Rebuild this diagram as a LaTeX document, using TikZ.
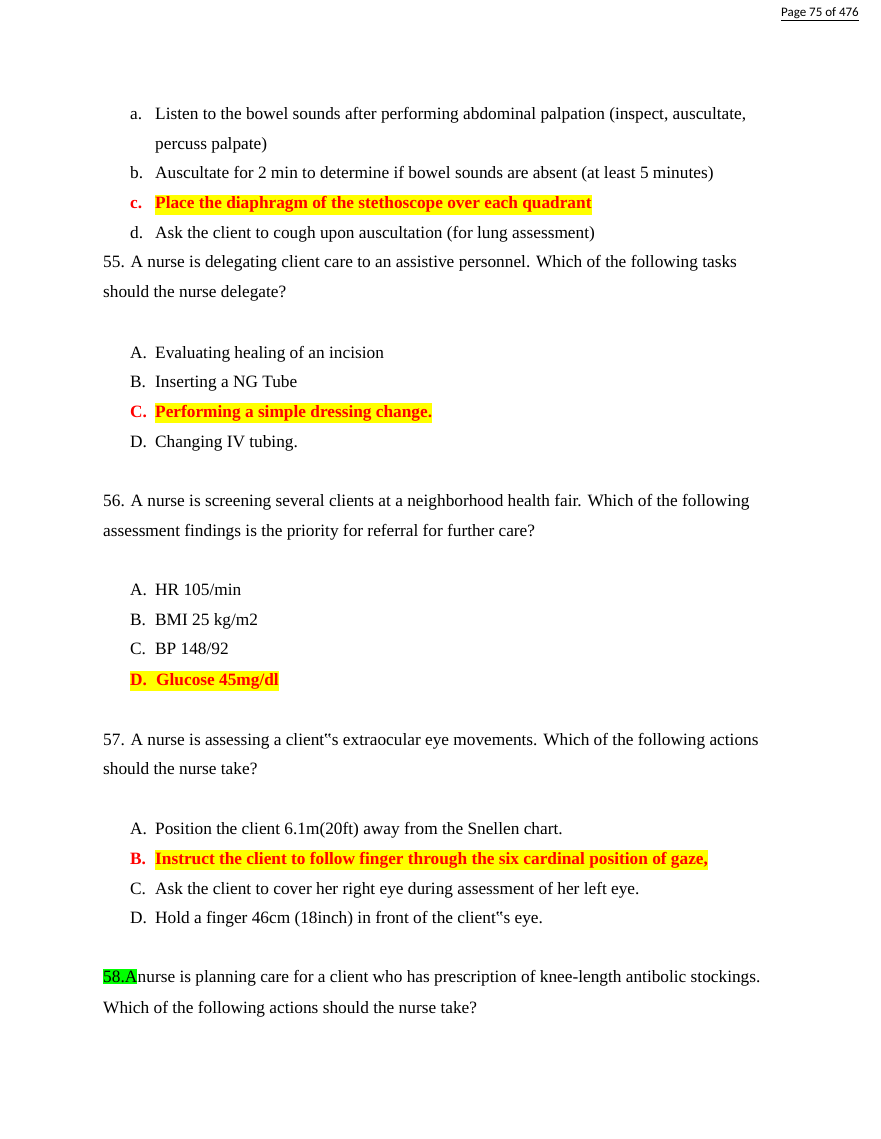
\documentclass[tikz,border=0pt]{standalone}
\usepackage{fontspec}
\setmainfont{Liberation Serif}
\newfontfamily\hdr{Carlito}
\definecolor{hl}{RGB}{255,255,0}
\definecolor{gr}{RGB}{0,255,0}
\definecolor{rd}{RGB}{255,0,0}
\tikzset{t/.style={anchor=base west,inner sep=0pt,font=\fontsize{17.3}{20}\selectfont},
 ans/.style={t,text=rd,font=\fontsize{17.3}{20}\selectfont\bfseries},
 hi/.style={ans,fill=hl,inner ysep=2pt}}
\begin{document}
\begin{tikzpicture}[x=1pt,y=-1pt]
\useasboundingbox (0,0) rectangle (880,1139);
\node[anchor=base east,inner sep=0pt,font=\hdr\fontsize{13}{15}\selectfont] (hd) at (859,17) {\underline{Page 75 of 476}};
\def\L{130}\def\T{155}\def\Q{103}
\node[t] (a1) at (\L,120) {a.};
\node[t] (a1t) at (\T,120) {Listen to the bowel sounds after performing abdominal palpation (inspect, auscultate,};
\node[t] (a1u) at (\T,150) {percuss palpate)};
\node[t] (b1) at (\L,179) {b.};
\node[t] (b1t) at (\T,179) {Auscultate for 2 min to determine if bowel sounds are absent (at least 5 minutes)};
\node[ans] (c1) at (\L,209) {c.};
\node[hi] (c1t) at (\T,209) {Place the diaphragm of the stethoscope over each quadrant};
\node[t] (d1) at (\L,239) {d.};
\node[t] (d1t) at (\T,239) {Ask the client to cough upon auscultation (for lung assessment)};
\node[t] (q55) at (\Q,268) {55. A nurse is delegating client care to an assistive personnel. Which of the following tasks};
\node[t] (q55b) at (\Q,298) {should the nurse delegate?};
\node[t] (a2) at (\L,358) {A.};
\node[t] (a2t) at (\T,358) {Evaluating healing of an incision};
\node[t] (b2) at (\L,387) {B.};
\node[t] (b2t) at (\T,387) {Inserting a NG Tube};
\node[ans] (c2) at (\L,417) {C.};
\node[hi] (c2t) at (\T,417) {Performing a simple dressing change.};
\node[t] (d2) at (\L,447) {D.};
\node[t] (d2t) at (\T,447) {Changing IV tubing.};
\node[t] (q56) at (\Q,506) {56. A nurse is screening several clients at a neighborhood health fair. Which of the following};
\node[t] (q56b) at (\Q,536) {assessment findings is the priority for referral for further care?};
\node[t] (a3) at (\L,595) {A.};
\node[t] (a3t) at (\T,595) {HR 105/min};
\node[t] (b3) at (\L,625) {B.};
\node[t] (b3t) at (\T,625) {BMI 25 kg/m2};
\node[t] (c3) at (\L,654) {C.};
\node[t] (c3t) at (\T,654) {BP 148/92};
\node[hi] (d3) at (\L,685) {D.\hspace{9.2pt}Glucose 45mg/dl};
\node[t] (q57) at (\Q,745) {57. A nurse is assessing a client‟s extraocular eye movements. Which of the following actions};
\node[t] (q57b) at (\Q,774) {should the nurse take?};
\node[t] (a4) at (\L,834) {A.};
\node[t] (a4t) at (\T,834) {Position the client 6.1m(20ft) away from the Snellen chart.};
\node[ans] (b4) at (\L,864) {B.};
\node[hi] (b4t) at (\T,864) {Instruct the client to follow finger through the six cardinal position of gaze,};
\node[t] (c4) at (\L,894) {C.};
\node[t] (c4t) at (\T,894) {Ask the client to cover her right eye during assessment of her left eye.};
\node[t] (d4) at (\L,923) {D.};
\node[t] (d4t) at (\T,923) {Hold a finger 46cm (18inch) in front of the client‟s eye.};
\node[t,fill=gr,inner ysep=2pt] (q58a) at (\Q,982) {58.A };
\node[t,anchor=base west] (q58) at (q58a.base east) {nurse is planning care for a client who has prescription of knee-length antibolic stockings.};
\node[t] (q58b) at (\Q,1013) {Which of the following actions should the nurse take?};
\end{tikzpicture}
\end{document}
